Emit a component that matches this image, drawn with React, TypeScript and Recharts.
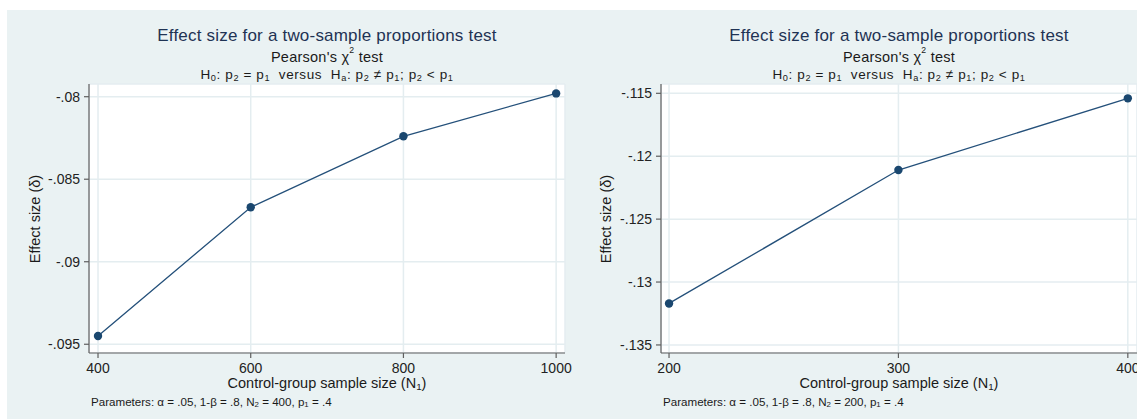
import React from 'react';
import { LineChart, Line, XAxis, YAxis, CartesianGrid } from 'recharts';

// ---- data ----
const leftN1 = [400, 600, 800, 1000];
const leftDelta = [-0.0945, -0.0867, -0.0824, -0.0798];
const leftXTicks = [400, 600, 800, 1000];
const leftYTicks = [-0.095, -0.09, -0.085, -0.08];
const leftN2 = '400';

const rightN1 = [200, 300, 400];
const rightDelta = [-0.1317, -0.1211, -0.1154];
const rightXTicks = [200, 300, 400];
const rightYTicks = [-0.135, -0.13, -0.125, -0.12, -0.115];
const rightN2 = '200';

const FONT = "'Liberation Sans', Arial, Helvetica, sans-serif";
const BG = '#eaf2f3';
const NAVY = '#1a476f';
const AXIS = '#5f5f5f';

const fmt = (v: number) => String(v).replace(/^(-?)0\./, '$1.');

const Sub = ({ c }: { c: string }) => (
  <span style={{ fontSize: '0.68em', position: 'relative', top: '0.22em' }}>{c}</span>
);
const Sup = ({ c }: { c: string }) => (
  <span style={{ fontSize: '0.6em', position: 'relative', top: '-0.95em' }}>{c}</span>
);

function Txt({ cx, left, baseline, fs, color = '#1a1a1a', ls = 0, children }: any) {
  const top = baseline - 0.8465 * fs;
  const style: React.CSSProperties = {
    position: 'absolute',
    top,
    height: fs,
    lineHeight: `${fs}px`,
    fontSize: fs,
    fontFamily: FONT,
    color,
    letterSpacing: ls,
    whiteSpace: 'pre',
  };
  if (cx !== undefined) {
    style.left = cx - 300;
    style.width = 600;
    style.textAlign = 'center';
  } else {
    style.left = left;
  }
  return <div style={style}>{children}</div>;
}

interface PanelProps {
  pageLeft: number;
  plotLeft: number;
  xs: number[];
  ys: number[];
  xTicks: number[];
  yTicks: number[];
  xDomain: [number, number];
  yDomain: [number, number];
  n2: string;
}

const W = 571;
const H = 409;
const PLOT_W = 476;

function Panel({ pageLeft, plotLeft, xs, ys, xTicks, yTicks, xDomain, yDomain, n2 }: PanelProps) {
  const data = xs.map((x, i) => ({ x, y: ys[i] }));
  const cx = plotLeft + PLOT_W / 2;
  return (
    <div style={{ position: 'absolute', left: pageLeft, top: 10, width: W, height: H }}>
      <LineChart width={W} height={H} data={data} margin={{ top: 74, right: W - plotLeft - PLOT_W, bottom: 0, left: 0 }}>
        <CartesianGrid stroke="#e4edf0" strokeWidth={1.5} fill="#ffffff" fillOpacity={1} />
        <XAxis
          type="number"
          dataKey="x"
          domain={xDomain}
          ticks={xTicks}
          allowDataOverflow
          interval={0}
          height={66}
          tickSize={5}
          tickMargin={5}
          axisLine={{ stroke: AXIS, strokeWidth: 1.2 }}
          tickLine={{ stroke: AXIS, strokeWidth: 1.2 }}
          tick={{ fill: '#222', fontSize: 14, fontFamily: FONT }}
        />
        <YAxis
          type="number"
          dataKey="y"
          domain={yDomain}
          ticks={yTicks}
          allowDataOverflow
          interval={0}
          width={plotLeft}
          tickSize={5}
          tickMargin={4}
          tickFormatter={fmt}
          axisLine={{ stroke: AXIS, strokeWidth: 1.2 }}
          tickLine={{ stroke: AXIS, strokeWidth: 1.2 }}
          tick={{ fill: '#222', fontSize: 14, fontFamily: FONT }}
        />
        <Line
          type="linear"
          dataKey="y"
          stroke="#24507a"
          strokeWidth={1.3}
          dot={{ r: 4.2, fill: NAVY, stroke: 'none' }}
          activeDot={false}
          isAnimationActive={false}
        />
      </LineChart>
      <Txt cx={cx} baseline={31} fs={17} color="#1f3354" ls={0.2}>
        Effect size for a two-sample proportions test
      </Txt>
      <Txt cx={cx} baseline={52} fs={14.5} ls={0.25}>
        Pearson's χ<Sup c="2" /> test
      </Txt>
      <Txt cx={cx} baseline={69} fs={13.5} ls={0.6}>
        H<Sub c="0" />: p<Sub c="2" /> = p<Sub c="1" />{'  '}versus{'  '}H<Sub c="a" />: p<Sub c="2" /> ≠ p<Sub c="1" />; p<Sub c="2" /> &lt; p<Sub c="1" />
      </Txt>
      <Txt cx={cx} baseline={378.5} fs={14.5}>
        Control-group sample size (N<Sub c="1" />)
      </Txt>
      <Txt left={plotLeft + 2} baseline={395.5} fs={11.6}>
        Parameters: α = .05, 1-β = .8, N<Sub c="2" /> = {n2}, p<Sub c="1" /> = .4
      </Txt>
      <div
        style={{
          position: 'absolute',
          left: 28,
          top: 209,
          transform: 'translate(-50%, -50%) rotate(-90deg)',
          whiteSpace: 'nowrap',
          fontFamily: FONT,
          fontSize: 14.5,
          color: '#1a1a1a',
        }}
      >
        Effect size (δ)
      </div>
    </div>
  );
}

export default function App() {
  return (
    <div style={{ position: 'absolute', left: 0, top: 0, width: 1137, height: 419, background: '#fff', overflow: 'hidden' }}>
      <div style={{ position: 'absolute', left: 7, top: 10, width: 1130, height: 409, background: BG }} />
      <Panel
        pageLeft={7}
        plotLeft={82}
        xs={leftN1}
        ys={leftDelta}
        xTicks={leftXTicks}
        yTicks={leftYTicks}
        xDomain={[388.2, 1011.6]}
        yDomain={[-0.09553, -0.07923]}
        n2={leftN2}
      />
      <Panel
        pageLeft={578}
        plotLeft={83}
        xs={rightN1}
        ys={rightDelta}
        xTicks={rightXTicks}
        yTicks={rightYTicks}
        xDomain={[196.5, 404.0]}
        yDomain={[-0.13564, -0.11426]}
        n2={rightN2}
      />
    </div>
  );
}
